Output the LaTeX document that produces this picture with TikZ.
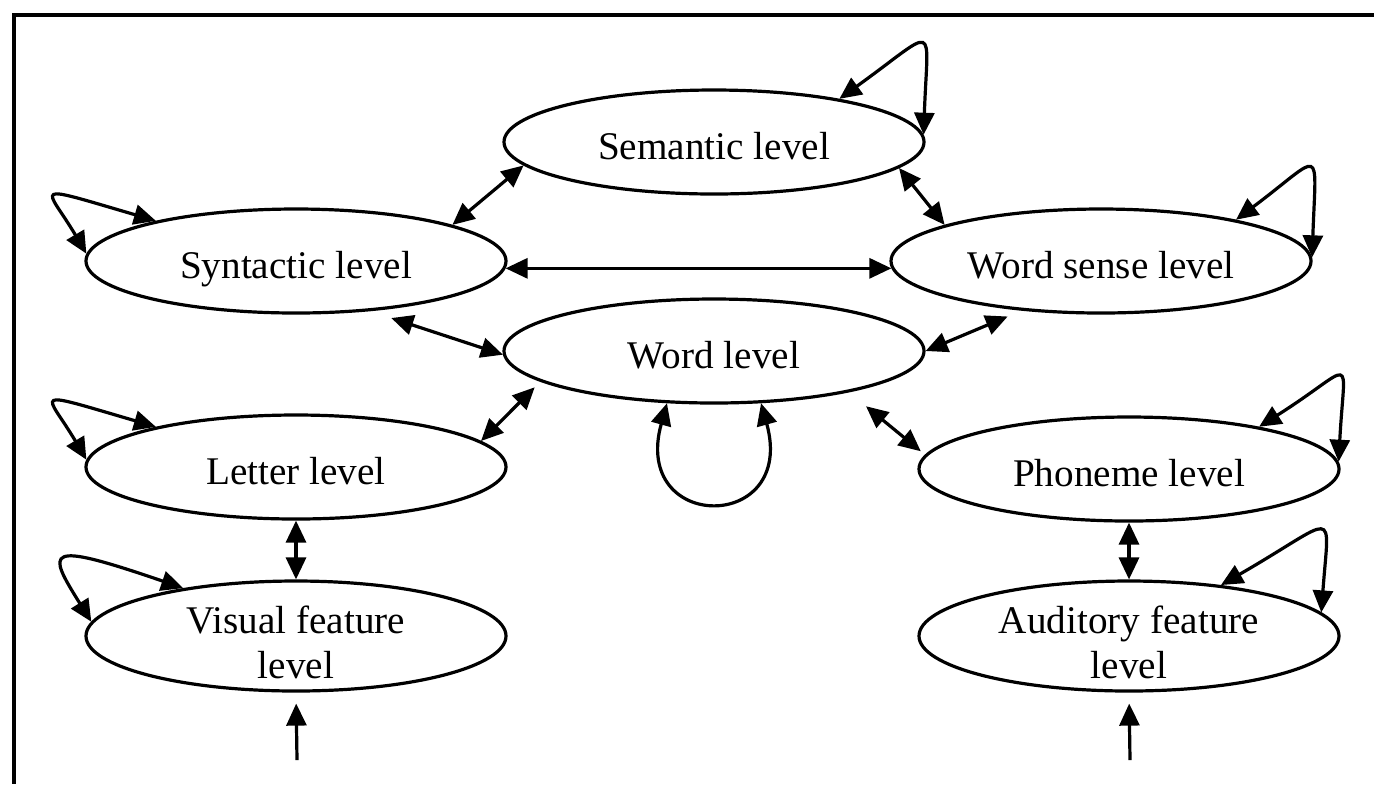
\documentclass[tikz,border=0pt]{standalone}
\usepackage{fontspec}
\setmainfont{Liberation Serif}
\usetikzlibrary{arrows.meta,shapes.geometric}

\begin{document}
\begin{tikzpicture}[x=0.5pt,y=-0.5pt,
  >={Triangle[length=11pt,width=10pt]},
  lvl/.style={ellipse, draw, line width=1.6pt, minimum width=210pt,
    minimum height=52pt, inner sep=0pt, align=center,
    font=\fontsize{19.6}{22.5}\selectfont,
    text height=17.2pt, text depth=0pt},
  lvltwo/.style={lvl, minimum height=55pt, inner ysep=-4pt,
    text height=42pt, text depth=0pt},
  link/.style={line width=1.6pt, <->},
  feed/.style={line width=1.6pt, ->},
  frame/.style={line width=1.6pt}]

\useasboundingbox (0,0) rectangle (1374,784);

% frame (top and left edges)
\coordinate (ftl) at (14,15);
\draw[frame] (1374,15) -- (ftl) -- (14,784);

% processing levels
\node[lvl] (sem)    at (714,142)  {Semantic level};
\node[lvl] (syn)    at (296,261)  {Syntactic level};
\node[lvl] (ws)     at (1101,261) {Word sense level};
\node[lvl] (word)   at (714,351)  {Word level};
\node[lvl] (letter) at (296,467)  {Letter level};
\node[lvl] (phon)   at (1129,469) {Phoneme level};
\node[lvltwo] (vis) at (296,636)  {Visual feature\\level};
\node[lvltwo] (aud) at (1129,636) {Auditory feature\\level};

% external input
\coordinate (visin) at (297,760);
\coordinate (audin) at (1130,760);

% links between levels
\draw[link] (sem.187) -- (syn.13);
\draw[link] (sem.352) -- (ws.167);
\draw[link] (syn.358) -- (ws.182);
\draw[link, shorten <=11pt] (syn.326) -- (word.181);
\draw[link, shorten <=4pt] (word.190) -- (letter.8);
\draw[link, shorten >=7.5pt] (word.east) -- (ws.212);
\draw[link, shorten <=11pt, shorten >=2.75pt] (word.343) -- (phon.176);
\draw[link] (letter.south) -- (vis.north);
\draw[link] (phon.south) -- (aud.north);
\draw[feed, shorten >=5.5pt] (visin) -- (vis.south);
\draw[feed, shorten >=5.5pt] (audin) -- (aud.south);

% self loops
\draw[link] (sem.19) .. controls +(100,-72) and +(4,-115) .. (sem.2);
\draw[link] (ws.17) .. controls +(88,-66) and +(4,-115) .. (ws.1);
\draw[link] (phon.18) .. controls +(98,-62) and +(6,-112) .. (phon.2);
\draw[link] (aud.29) .. controls +(118,-68) and +(8,-108) .. (aud.7);
\draw[link] (syn.164) .. controls +(-130,-38) and +(-40,-68) .. (syn.178);
\draw[link] (letter.164) .. controls +(-130,-38) and +(-40,-68) .. (letter.178);
\draw[link] (vis.157) .. controls +(-140,-48) and +(-45,-72) .. (vis.176);
\draw[link] (word.228) .. controls +(-36,130) and +(36,130) .. (word.312);

\end{tikzpicture}
\end{document}
